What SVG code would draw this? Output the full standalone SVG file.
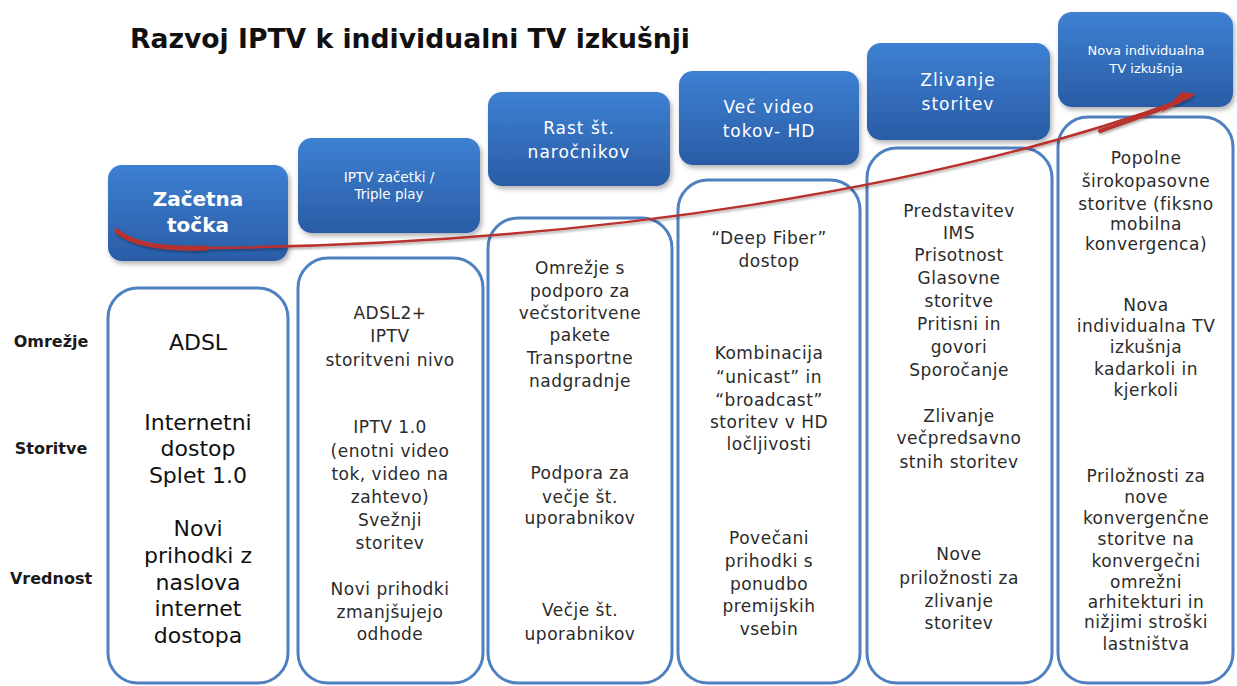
<svg xmlns="http://www.w3.org/2000/svg" width="1237" height="686" viewBox="0 0 1237 686">
  <defs>
    <linearGradient id="hdrFill" x1="0" y1="0" x2="0" y2="1">
      <stop offset="0" stop-color="#3d80d2"/>
      <stop offset="1" stop-color="#2a5ca6"/>
    </linearGradient>
    <filter id="shadow" x="-10%" y="-10%" width="130%" height="140%">
      <feDropShadow dx="2" dy="3" stdDeviation="2.5" flood-color="#000" flood-opacity="0.3"/>
    </filter>
    <filter id="lineShadow" x="-5%" y="-20%" width="110%" height="140%">
      <feDropShadow dx="1" dy="2" stdDeviation="1.2" flood-color="#000" flood-opacity="0.3"/>
    </filter>
    <marker id="arrowHead" viewBox="0 0 10 10" refX="8" refY="5" markerWidth="4" markerHeight="4" orient="auto" markerUnits="strokeWidth">
      <path d="M0,0 L10,5 L0,10 z" fill="#b8302e"/>
    </marker>
  </defs>
  <style>
    .hdr { fill: url(#hdrFill); filter: url(#shadow); }
    .col { fill: #ffffff; stroke: #4f80c0; stroke-width: 3; }
    .hdrText { font-family: "DejaVu Sans", Verdana, sans-serif; fill: #ffffff; text-anchor: middle; }
    .body { font-family: "DejaVu Sans", Verdana, sans-serif; font-size: 17px; letter-spacing: 0.5px; fill: #2b2b2b; text-anchor: middle; }
    .big { font-family: "DejaVu Sans", Verdana, sans-serif; font-size: 22px; fill: #111111; text-anchor: middle; }
    .rowLabel { font-family: "DejaVu Sans", Verdana, sans-serif; font-size: 16px; font-weight: bold; fill: #1a1a1a; text-anchor: middle; }
    .title { font-family: "DejaVu Sans", Verdana, sans-serif; font-size: 27px; font-weight: bold; fill: #111111; }
  </style>

  <rect width="1237" height="686" fill="#ffffff"/>

  <!-- title -->
  <text class="title" x="130" y="48" textLength="560" lengthAdjust="spacingAndGlyphs">Razvoj IPTV k individualni TV izkušnji</text>

  <!-- row labels -->
  <g id="row-labels">
    <text class="rowLabel" x="51" y="347">Omrežje</text>
    <text class="rowLabel" x="51" y="454">Storitve</text>
    <text class="rowLabel" x="51" y="584">Vrednost</text>
  </g>

  <!-- stage 1 -->
  <g id="stage1">
    <rect class="col" x="108" y="288" width="180" height="395" rx="30"/>
    <rect class="hdr" x="108" y="165" width="180" height="96" rx="14"/>
    <text class="hdrText" font-size="20" font-weight="bold" x="198" y="206">Začetna</text>
    <text class="hdrText" font-size="20" font-weight="bold" x="198" y="232">točka</text>
    <text class="big" x="198" y="350">ADSL</text>
    <text class="big" x="198" y="430">Internetni</text>
    <text class="big" x="198" y="456">dostop</text>
    <text class="big" x="198" y="483">Splet 1.0</text>
    <text class="big" x="198" y="536">Novi</text>
    <text class="big" x="198" y="563">prihodki z</text>
    <text class="big" x="198" y="590">naslova</text>
    <text class="big" x="198" y="616">internet</text>
    <text class="big" x="198" y="643">dostopa</text>
  </g>

  <!-- stage 2 -->
  <g id="stage2">
    <rect class="col" x="298" y="258" width="185" height="425" rx="30"/>
    <rect class="hdr" x="298" y="138" width="182" height="95" rx="14"/>
    <text class="hdrText" font-size="13.5" x="389" y="182">IPTV začetki /</text>
    <text class="hdrText" font-size="13.5" x="389" y="199">Triple play</text>
    <text class="body" x="390" y="319">ADSL2+</text>
    <text class="body" x="390" y="342">IPTV</text>
    <text class="body" x="390" y="366">storitveni nivo</text>
    <text class="body" x="390" y="433">IPTV 1.0</text>
    <text class="body" x="390" y="457">(enotni video</text>
    <text class="body" x="390" y="480">tok, video na</text>
    <text class="body" x="390" y="503">zahtevo)</text>
    <text class="body" x="390" y="526">Svežnji</text>
    <text class="body" x="390" y="549">storitev</text>
    <text class="body" x="390" y="595">Novi prihodki</text>
    <text class="body" x="390" y="618">zmanjšujejo</text>
    <text class="body" x="390" y="640">odhode</text>
  </g>

  <!-- stage 3 -->
  <g id="stage3">
    <rect class="col" x="488" y="218" width="184" height="465" rx="30"/>
    <rect class="hdr" x="488" y="92" width="182" height="94" rx="14"/>
    <text class="hdrText" font-size="17" letter-spacing="1" x="579" y="134">Rast št.</text>
    <text class="hdrText" font-size="17" letter-spacing="1" x="579" y="158">naročnikov</text>
    <text class="body" x="580" y="274">Omrežje s</text>
    <text class="body" x="580" y="297">podporo za</text>
    <text class="body" x="580" y="319">večstoritvene</text>
    <text class="body" x="580" y="341">pakete</text>
    <text class="body" x="580" y="364">Transportne</text>
    <text class="body" x="580" y="387">nadgradnje</text>
    <text class="body" x="580" y="479">Podpora za</text>
    <text class="body" x="580" y="503">večje št.</text>
    <text class="body" x="580" y="524">uporabnikov</text>
    <text class="body" x="580" y="616">Večje št.</text>
    <text class="body" x="580" y="640">uporabnikov</text>
  </g>

  <!-- stage 4 -->
  <g id="stage4">
    <rect class="col" x="678" y="180" width="182" height="503" rx="30"/>
    <rect class="hdr" x="679" y="71" width="180" height="94" rx="14"/>
    <text class="hdrText" font-size="17" letter-spacing="1" x="769" y="113">Več video</text>
    <text class="hdrText" font-size="17" letter-spacing="1" x="769" y="137">tokov- HD</text>
    <text class="body" x="769" y="244">“Deep Fiber”</text>
    <text class="body" x="769" y="267">dostop</text>
    <text class="body" x="769" y="359">Kombinacija</text>
    <text class="body" x="769" y="383">“unicast” in</text>
    <text class="body" x="769" y="406">“broadcast”</text>
    <text class="body" x="769" y="428">storitev v HD</text>
    <text class="body" x="769" y="450">ločljivosti</text>
    <text class="body" x="769" y="544">Povečani</text>
    <text class="body" x="769" y="567">prihodki s</text>
    <text class="body" x="769" y="590">ponudbo</text>
    <text class="body" x="769" y="612">premijskih</text>
    <text class="body" x="769" y="635">vsebin</text>
  </g>

  <!-- stage 5 -->
  <g id="stage5">
    <rect class="col" x="867" y="148" width="185" height="535" rx="30"/>
    <rect class="hdr" x="867" y="43" width="183" height="97" rx="14"/>
    <text class="hdrText" font-size="17" letter-spacing="1" x="958" y="86">Zlivanje</text>
    <text class="hdrText" font-size="17" letter-spacing="1" x="958" y="110">storitev</text>
    <text class="body" x="959" y="217">Predstavitev</text>
    <text class="body" x="959" y="239">IMS</text>
    <text class="body" x="959" y="261">Prisotnost</text>
    <text class="body" x="959" y="284">Glasovne</text>
    <text class="body" x="959" y="307">storitve</text>
    <text class="body" x="959" y="330">Pritisni in</text>
    <text class="body" x="959" y="353">govori</text>
    <text class="body" x="959" y="376">Sporočanje</text>
    <text class="body" x="959" y="422">Zlivanje</text>
    <text class="body" x="959" y="444">večpredsavno</text>
    <text class="body" x="959" y="468">stnih storitev</text>
    <text class="body" x="959" y="560">Nove</text>
    <text class="body" x="959" y="584">priložnosti za</text>
    <text class="body" x="959" y="607">zlivanje</text>
    <text class="body" x="959" y="629">storitev</text>
  </g>

  <!-- stage 6 -->
  <g id="stage6">
    <rect class="col" x="1058" y="117" width="175" height="566" rx="30"/>
    <rect class="hdr" x="1058" y="12" width="175" height="95" rx="14"/>
    <text class="hdrText" font-size="13" x="1146" y="55">Nova individualna</text>
    <text class="hdrText" font-size="13" x="1146" y="73">TV izkušnja</text>
    <text class="body" x="1146" y="164">Popolne</text>
    <text class="body" x="1146" y="187">širokopasovne</text>
    <text class="body" x="1146" y="210">storitve (fiksno</text>
    <text class="body" x="1146" y="230">mobilna</text>
    <text class="body" x="1146" y="250">konvergenca)</text>
    <text class="body" x="1146" y="311">Nova</text>
    <text class="body" x="1146" y="332">individualna TV</text>
    <text class="body" x="1146" y="353">izkušnja</text>
    <text class="body" x="1146" y="375">kadarkoli in</text>
    <text class="body" x="1146" y="396">kjerkoli</text>
    <text class="body" x="1146" y="482">Priložnosti za</text>
    <text class="body" x="1146" y="503">nove</text>
    <text class="body" x="1146" y="524">konvergenčne</text>
    <text class="body" x="1146" y="545">storitve na</text>
    <text class="body" x="1146" y="567">konvergečni</text>
    <text class="body" x="1146" y="588">omrežni</text>
    <text class="body" x="1146" y="608">arhitekturi in</text>
    <text class="body" x="1146" y="628">nižjimi stroški</text>
    <text class="body" x="1146" y="650">lastništva</text>
  </g>

  <!-- connectors: evolution arrow -->
  <g id="connectors" filter="url(#lineShadow)">
    <path d="M117,231 Q138,250 205,248" fill="none" stroke="#b8302e" stroke-width="5" stroke-linecap="round"/>
    <path d="M200,248 C600,245 950,185 1190,97" fill="none" stroke="#b8302e" stroke-width="2.5" stroke-linecap="round"/>
    <path d="M1100,131 Q1150,114 1180,101" fill="none" stroke="#b8302e" stroke-width="4" stroke-linecap="round"/>
    <path d="M1160,113 L1196,94 L1182,92 Z" fill="#b8302e"/>
  </g>
</svg>
